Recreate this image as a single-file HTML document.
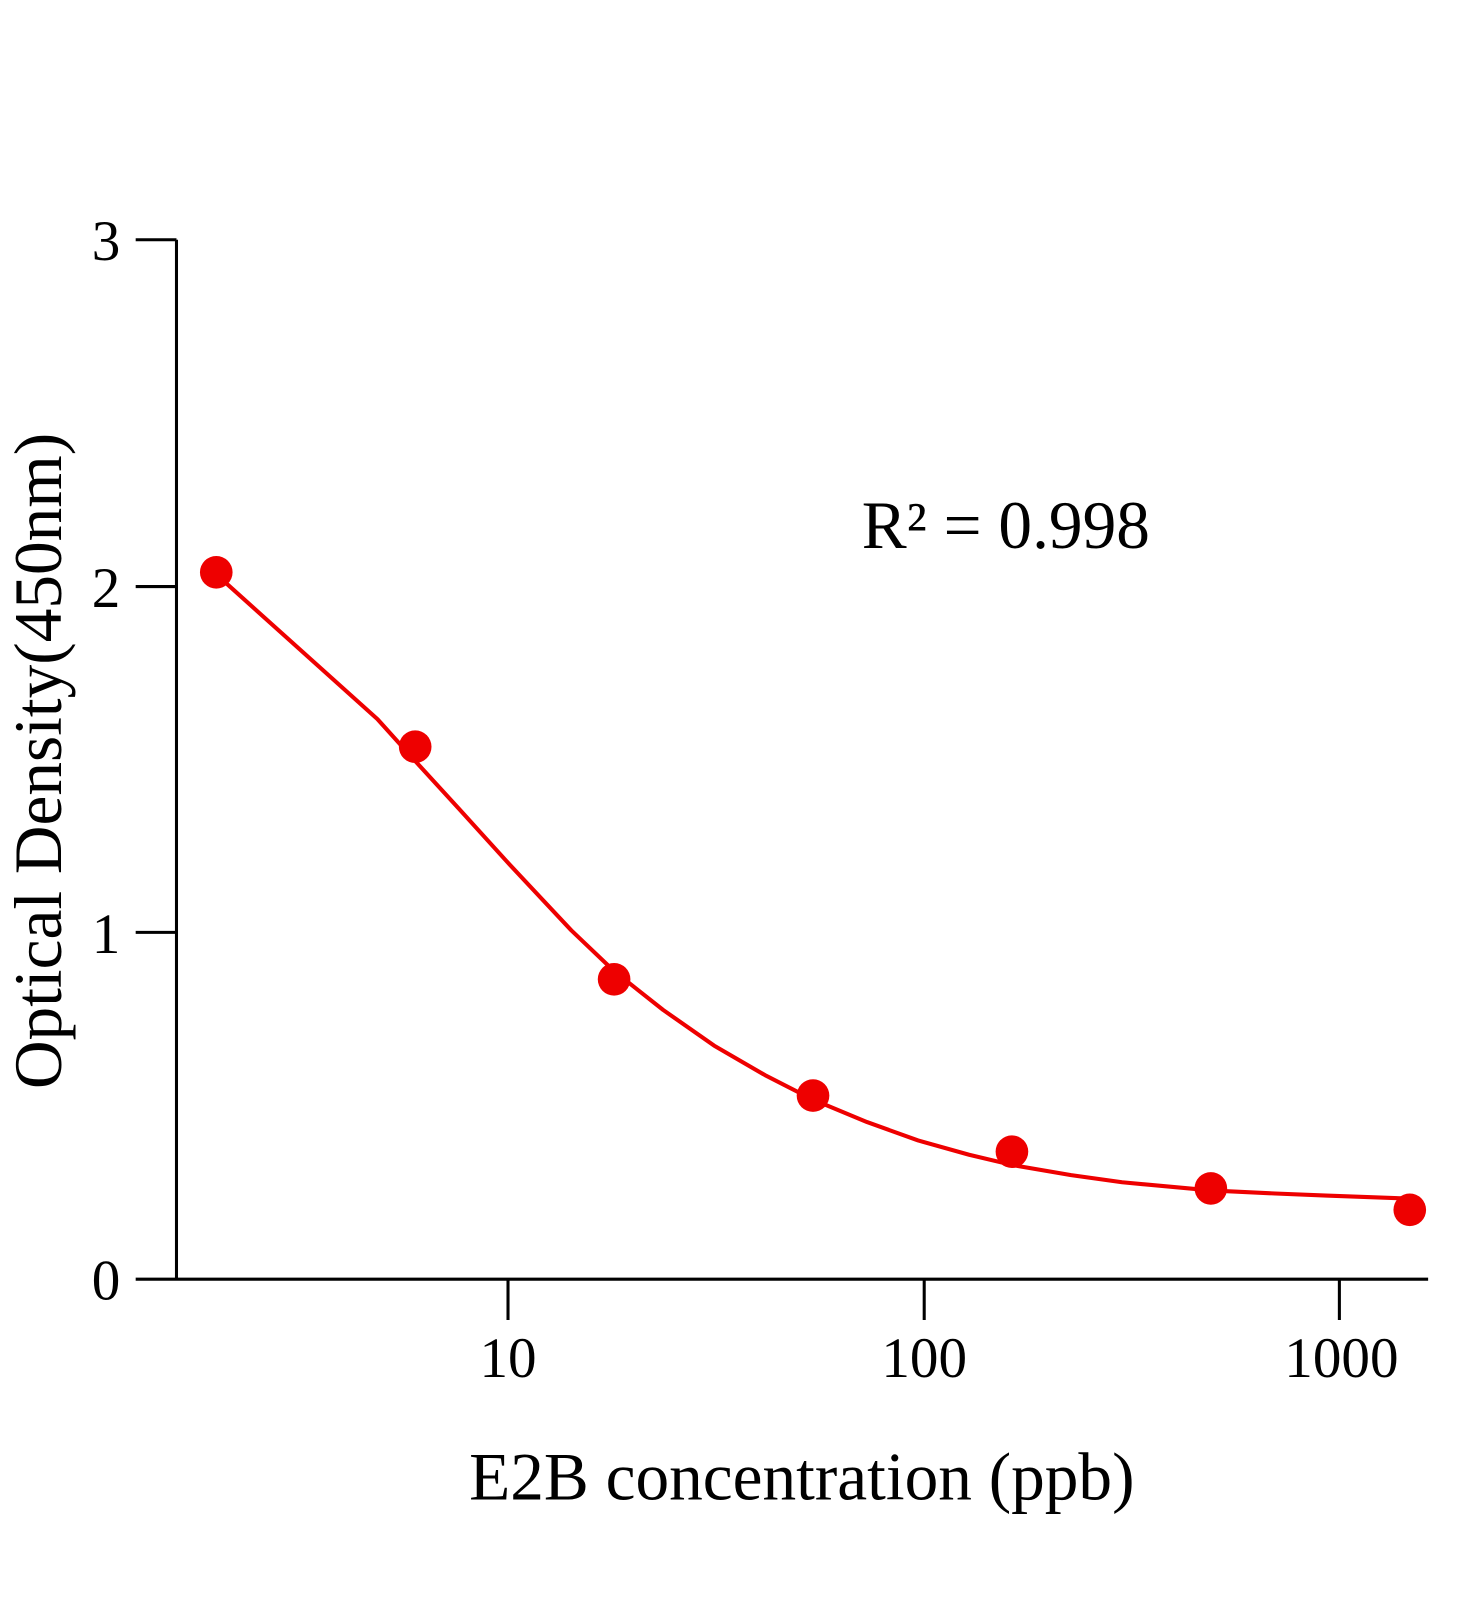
<!DOCTYPE html>
<html><head><style>body{margin:0;background:#fff}svg{display:block}</style></head>
<body>
<svg width="1472" height="1600" viewBox="0 0 1443 1568.5" xmlns="http://www.w3.org/2000/svg" font-family="Liberation Serif, serif">
<g stroke="#000" stroke-width="3" fill="none">
<line x1="173" y1="235" x2="173" y2="1254"/>
<line x1="133" y1="1254" x2="1400" y2="1254"/>
<line x1="133" y1="235" x2="173" y2="235"/>
<line x1="133" y1="575" x2="173" y2="575"/>
<line x1="133" y1="914" x2="173" y2="914"/>
<line x1="498" y1="1254" x2="498" y2="1294"/>
<line x1="906" y1="1254" x2="906" y2="1294"/>
<line x1="1313" y1="1254" x2="1313" y2="1294"/>
</g>
<g font-size="56" fill="#000" text-anchor="end">
<text x="118" y="255">3</text>
<text x="118" y="595">2</text>
<text x="118" y="934">1</text>
<text x="118" y="1274">0</text>
</g>
<g font-size="56" fill="#000" text-anchor="middle">
<text x="498" y="1350">10</text>
<text x="906" y="1350">100</text>
<text x="1315" y="1350">1000</text>
<text x="786" y="1470" font-size="66">E2B concentration (ppb)</text>
<text x="986" y="537" font-size="66">R² = 0.998</text>
</g>
<text transform="translate(60,746) rotate(-90)" font-size="66" text-anchor="middle" fill="#000">Optical Density(450nm)</text>
<polyline fill="none" stroke="#e00" stroke-width="4" stroke-linejoin="round" points="212,563 370,705 407,746 450,793 500,848 560,912 602,952 650,990 700,1025 750,1054 797,1078 850,1100 900,1118 950,1132 992,1142 1050,1152 1100,1159 1187,1167 1250,1170 1300,1172 1382,1175"/>
<g fill="#e00">
<circle cx="212" cy="561" r="16"/>
<circle cx="407" cy="732" r="16"/>
<circle cx="602" cy="960" r="16"/>
<circle cx="797" cy="1074" r="16"/>
<circle cx="992" cy="1129" r="16"/>
<circle cx="1187" cy="1165" r="16"/>
<circle cx="1382" cy="1186" r="16"/>
</g>
</svg>
</body></html>
